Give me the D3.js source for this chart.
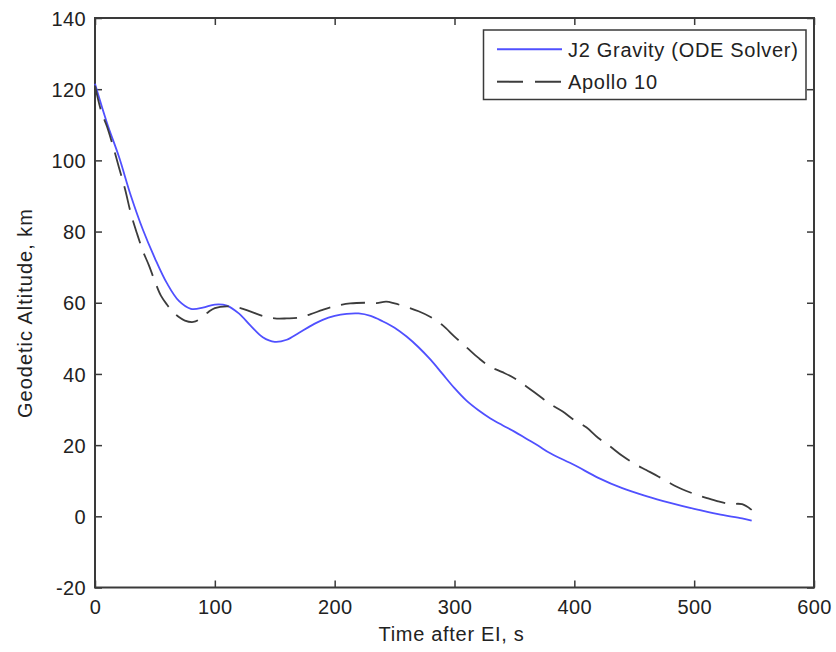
<!DOCTYPE html>
<html>
<head>
<meta charset="utf-8">
<script src="https://cdn.jsdelivr.net/npm/d3@7"></script>
<style>
  html, body { margin: 0; padding: 0; background: #fff; }
  svg { display: block; font-family: "Liberation Sans", Arial, sans-serif; }
</style>
</head>
<body>
<svg id="chart" width="836" height="652"></svg>
<script>
// ---- data ----
const xTicks = [0, 100, 200, 300, 400, 500, 600];
const yTicks = [-20, 0, 20, 40, 60, 80, 100, 120, 140];

const j2Time = [0,10,20,30,40,50,60,70,80,90,100,110,120,130,140,150,160,170,180,190,200,210,220,230,240,250,260,270,280,290,300,310,320,330,340,350,360,370,380,400,420,440,460,480,500,520,540,548];
const j2Alt  = [121.5,110.5,101,90,80.5,72.5,65.5,60.5,58.3,58.6,59.5,59.2,57,53.5,50.3,49,49.6,51.5,53.5,55.2,56.3,56.9,57,56.3,54.8,53,50.5,47.5,44,40,36,32.5,29.8,27.5,25.6,23.8,21.8,19.8,17.7,14.4,10.8,7.9,5.7,3.8,2.1,0.6,-0.6,-1.2];

const apTime = [0,5,10,15,20,25,30,35,40,45,50,55,60,65,70,75,82,88,95,100,110,120,130,140,150,160,170,180,190,200,213,225,235,243,250,260,270,280,290,300,310,320,330,340,350,360,370,380,390,400,410,420,430,440,450,460,470,480,490,500,510,520,530,540,548];
const apAlt  = [121,114,109.5,104,98,92,85,79.5,74.5,70.5,66,62,59.5,57.5,56,55,54.6,55.5,57.5,58.5,59,58.6,57.5,56.3,55.6,55.6,55.8,56.8,58,59,59.8,60,59.9,60.3,59.8,58.8,57.6,56,53.7,50.5,47.5,44.5,42,40.5,38.8,36.5,34,31.5,29.5,27,25,22,19.6,17,14.8,13,11.2,9.3,7.6,6.3,5.2,4.2,3.5,3.4,1.8];

const seriesNames = ["J2 Gravity (ODE Solver)", "Apollo 10"];
const xLabel = "Time after EI, s";
const yLabel = "Geodetic Altitude, km";

// ---- layout ----
const svg = d3.select("#chart");
const L = 95, R = 814, T = 18, B = 587.5;
const FS = 20;
const LS = "0.7px";
const textColor = "#222";
const axisColor = "#3a3a3a";

const x = d3.scaleLinear().domain([0, 600]).range([L, R]);
const y = d3.scaleLinear().domain([-20, 140]).range([B, T]);

svg.append("rect").attr("width", 836).attr("height", 652).attr("fill", "#fff");

function styleAxis(g) {
  g.selectAll("path.domain").remove();
  g.selectAll("line").attr("stroke", axisColor).attr("stroke-width", 1.5);
}
const fmt = d => String(d);

const gx = svg.append("g").attr("transform", `translate(0,${B})`)
  .call(d3.axisBottom(x).tickValues(xTicks).tickSizeInner(-7).tickSizeOuter(0).tickFormat(fmt));
styleAxis(gx);
gx.selectAll("text").attr("y", 26.5).attr("dy", null)
  .attr("font-size", FS).attr("fill", textColor).attr("font-family", null)
  .style("letter-spacing", "0.4px");

const gxTop = svg.append("g").attr("transform", `translate(0,${T})`)
  .call(d3.axisTop(x).tickValues(xTicks).tickSizeInner(-7).tickSizeOuter(0).tickFormat(""));
styleAxis(gxTop);

const gy = svg.append("g").attr("transform", `translate(${L},0)`)
  .call(d3.axisLeft(y).tickValues(yTicks).tickSizeInner(-7).tickSizeOuter(0).tickFormat(fmt));
styleAxis(gy);
gy.selectAll("text").attr("x", -9).attr("dy", "0.36em")
  .attr("font-size", FS).attr("fill", textColor).attr("font-family", null)
  .style("letter-spacing", "0.4px");

const gyR = svg.append("g").attr("transform", `translate(${R},0)`)
  .call(d3.axisRight(y).tickValues(yTicks).tickSizeInner(-7).tickSizeOuter(0).tickFormat(""));
styleAxis(gyR);

svg.append("rect").attr("x", L).attr("y", T).attr("width", R - L).attr("height", B - T)
  .attr("fill", "none").attr("stroke", axisColor).attr("stroke-width", 2);

// lines
const line = d3.line().curve(d3.curveCatmullRom.alpha(0.5));
const blue = "#5050ff";
const dark = "#3c3c3c";

svg.append("path")
  .attr("d", line(j2Time.map((t, i) => [x(t), y(j2Alt[i])])))
  .attr("fill", "none").attr("stroke", blue).attr("stroke-width", 1.8);

svg.append("path")
  .attr("d", line(apTime.map((t, i) => [x(t), y(apAlt[i])])))
  .attr("fill", "none").attr("stroke", dark).attr("stroke-width", 1.8)
  .attr("stroke-dasharray", "24,11");

// axis labels
svg.append("text").attr("x", (L + R) / 2 - 3).attr("y", 641).attr("text-anchor", "middle")
  .attr("font-size", FS).attr("fill", textColor).style("letter-spacing", LS).text(xLabel);
svg.append("text").attr("transform", "translate(32,313) rotate(-90)").attr("text-anchor", "middle")
  .attr("font-size", FS).attr("fill", textColor).style("letter-spacing", "1px").text(yLabel);

// legend
const lg = svg.append("g");
lg.append("rect").attr("x", 483.5).attr("y", 30).attr("width", 322.5).attr("height", 69.5)
  .attr("fill", "#fff").attr("stroke", axisColor).attr("stroke-width", 1.5);
const rows = [
  { name: seriesNames[0], color: blue, dash: null, yy: 49.3 },
  { name: seriesNames[1], color: dark, dash: "26,12", yy: 81.7 }
];
rows.forEach(r => {
  lg.append("line").attr("x1", 497).attr("x2", 562).attr("y1", r.yy).attr("y2", r.yy)
    .attr("stroke", r.color).attr("stroke-width", 2).attr("stroke-dasharray", r.dash);
  lg.append("text").attr("x", 568).attr("y", r.yy).attr("dy", "0.36em")
    .attr("font-size", FS).attr("fill", textColor).style("letter-spacing", LS).text(r.name);
});
</script>
</body>
</html>
